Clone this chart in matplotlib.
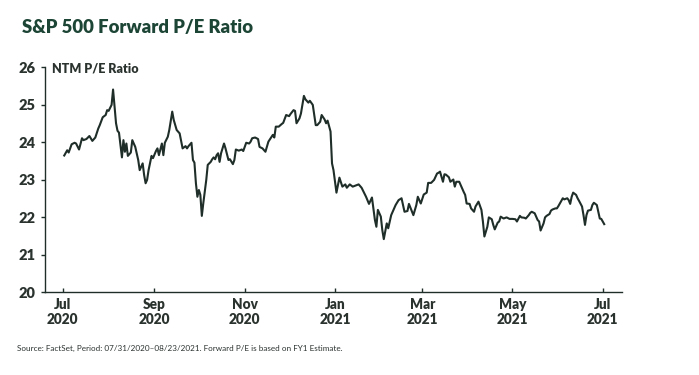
import numpy as np
import matplotlib
matplotlib.use("Agg")
import matplotlib.pyplot as plt
from matplotlib import font_manager

start_date = np.datetime64("2020-07-01")

day_offset = [
    1, 3, 4, 6, 8, 9, 11, 13, 14, 16, 18, 20, 22, 24, 25, 27, 29, 30, 31, 33,
    34, 36, 37, 38, 40, 41, 42, 43, 44, 46, 47, 49, 51, 52, 54, 55, 56, 57, 58, 60,
    61, 63, 64, 65, 67, 68, 69, 71, 72, 74, 75, 77, 79, 81, 83, 84, 85, 87, 88, 89,
    90, 91, 92, 93, 94, 95, 97, 98, 100, 101, 102, 103, 104, 105, 106, 107, 109, 110, 112, 113,
    115, 116, 117, 119, 121, 122, 124, 126, 127, 128, 130, 132, 133, 135, 137, 139, 140, 142, 143, 144,
    146, 148, 149, 151, 153, 154, 156, 157, 158, 160, 161, 163, 164, 166, 167, 169, 171, 172, 174, 175,
    177, 178, 179, 181, 182, 183, 185, 187, 189, 191, 192, 194, 196, 200, 202, 205, 207, 209, 211, 212,
    213, 215, 216, 217, 219, 220, 222, 225, 227, 229, 231, 233, 234, 237, 239, 240, 242, 244, 246, 247,
    249, 251, 253, 254, 255, 257, 258, 259, 261, 262, 264, 265, 266, 268, 269, 271, 272, 273, 275, 276,
    278, 279, 281, 283, 284, 285, 287, 288, 290, 291, 292, 294, 295, 296, 298, 300, 302, 304, 306, 307,
    309, 310, 312, 313, 315, 316, 317, 319, 320, 321, 322, 323, 325, 326, 327, 329, 330, 331, 333, 334,
    335, 337, 338, 339, 341, 342, 343, 344, 345, 347, 348, 349, 351, 352, 353, 354, 355, 357, 358, 359,
    361, 362, 363, 364, 366,
]

pe_ratio = [
    23.64, 23.78, 23.72, 23.94, 23.98, 23.96, 23.80, 24.10, 24.05, 24.08, 24.16, 24.03, 24.12, 24.36, 24.45, 24.66, 24.72, 24.85, 24.83, 24.99,
    25.40, 24.50, 24.30, 24.25, 23.59, 24.05, 23.74, 23.96, 23.63, 23.72, 24.05, 23.87, 23.52, 23.25, 23.43, 23.12, 22.90, 22.99, 23.25, 23.63,
    23.57, 23.76, 23.83, 23.65, 23.96, 23.65, 23.98, 24.14, 24.32, 24.81, 24.59, 24.32, 24.23, 23.83, 23.89, 23.83, 23.89, 23.98, 23.52, 23.45,
    22.90, 22.54, 22.72, 22.59, 22.03, 22.37, 22.99, 23.39, 23.47, 23.54, 23.59, 23.54, 23.65, 23.70, 23.47, 23.70, 23.96, 23.83, 23.52, 23.54,
    23.41, 23.52, 23.80, 23.77, 23.80, 23.76, 23.98, 23.96, 24.01, 24.10, 24.12, 24.08, 23.87, 23.83, 23.74, 24.01, 24.07, 24.19, 24.12, 24.41,
    24.41, 24.48, 24.51, 24.72, 24.69, 24.75, 24.85, 24.83, 24.50, 24.63, 24.76, 25.23, 25.14, 25.05, 25.10, 24.99, 24.45, 24.45, 24.54, 24.72,
    24.60, 24.50, 24.57, 24.28, 23.43, 23.25, 22.65, 23.05, 22.81, 22.87, 22.78, 22.87, 22.81, 22.87, 22.78, 22.54, 22.35, 22.52, 21.92, 21.74,
    22.19, 22.01, 21.65, 21.41, 21.83, 21.70, 22.05, 22.32, 22.45, 22.50, 22.14, 22.16, 22.35, 22.05, 22.32, 22.54, 22.36, 22.60, 22.65, 22.91,
    22.91, 22.99, 23.16, 23.18, 23.21, 22.94, 23.14, 23.13, 23.06, 22.94, 23.00, 22.81, 22.94, 22.94, 22.85, 22.67, 22.59, 22.36, 22.35, 22.23,
    22.14, 22.28, 22.41, 22.19, 21.88, 21.48, 21.74, 21.99, 21.94, 21.79, 21.67, 21.85, 21.88, 22.01, 21.96, 21.99, 21.95, 21.95, 21.94, 21.88,
    22.03, 21.99, 21.98, 21.96, 22.05, 22.11, 22.14, 22.10, 22.01, 21.92, 21.88, 21.64, 21.83, 21.99, 22.03, 22.08, 22.17, 22.20, 22.23, 22.23,
    22.29, 22.43, 22.50, 22.47, 22.50, 22.45, 22.35, 22.54, 22.65, 22.59, 22.50, 22.43, 22.28, 22.05, 21.79, 22.05, 22.17, 22.19, 22.32, 22.38,
    22.32, 22.14, 21.96, 21.95, 21.81,
]

tick_dates = ["2020-07-01", "2020-09-01", "2020-11-01", "2021-01-01",
              "2021-03-01", "2021-05-01", "2021-07-01"]
tick_labels = ["Jul\n2020", "Sep\n2020", "Nov\n2020", "Jan\n2021",
               "Mar\n2021", "May\n2021", "Jul\n2021"]
y_ticks = [20, 21, 22, 23, 24, 25, 26]

title = "S&P 500 Forward P/E Ratio"
series_label = "NTM P/E Ratio"
source = "Source: FactSet, Period: 07/31/2020\u201308/23/2021. Forward P/E is based on FY1 Estimate."

plt.rcParams["font.family"] = ["Lato", "DejaVu Sans"]

available = {f.name for f in font_manager.fontManager.ttflist}
narrow = "Liberation Sans Narrow" if "Liberation Sans Narrow" in available else None

line_color = "#1f2e29"
title_color = "#1d4536"
text_color = "#2b332f"

dates = start_date + np.array(day_offset).astype("timedelta64[D]")

fig = plt.figure(figsize=(6.99, 3.75), dpi=100)
ax = fig.add_axes([0.0644, 0.2213, 0.8254, 0.6])

ax.plot(dates, pe_ratio, color=line_color, lw=1.5, solid_joinstyle="round")

ax.set_ylim(20, 26)
ax.set_xlim(start_date - np.timedelta64(12, "D"), start_date + np.timedelta64(378, "D"))
ax.set_yticks(y_ticks)
ax.set_yticklabels([str(v) for v in y_ticks], fontsize=10.5, fontweight="heavy", color=text_color)
ax.set_xticks([np.datetime64(d) for d in tick_dates])
ax.set_xticklabels(tick_labels, fontsize=9.8, fontweight="heavy", color=text_color, linespacing=1.25)

for s in ["top", "right"]:
    ax.spines[s].set_visible(False)
for s in ["left", "bottom"]:
    ax.spines[s].set_color(line_color)
    ax.spines[s].set_linewidth(1.0)

ax.tick_params(axis="y", direction="out", length=3, width=1, color=line_color, pad=4)
ax.tick_params(axis="x", direction="in", length=3, width=1, color=line_color, pad=4)

ax.text(0.012, 0.995, series_label, transform=ax.transAxes, fontsize=9,
        fontweight="heavy", color=text_color, va="center", ha="left")

fig.text(22 / 699, 1 - 27 / 375, title, fontsize=13.3, fontweight="heavy",
         color=title_color, va="center", ha="left")
if narrow:
    fig.text(17 / 699, 1 - 348 / 375, source, fontsize=7.2, color=text_color,
             va="center", ha="left", family=[narrow, "DejaVu Sans"])
else:
    fig.text(17 / 699, 1 - 348 / 375, source, fontsize=5.9, color=text_color,
             va="center", ha="left")

fig.savefig("out.png", dpi=100)
